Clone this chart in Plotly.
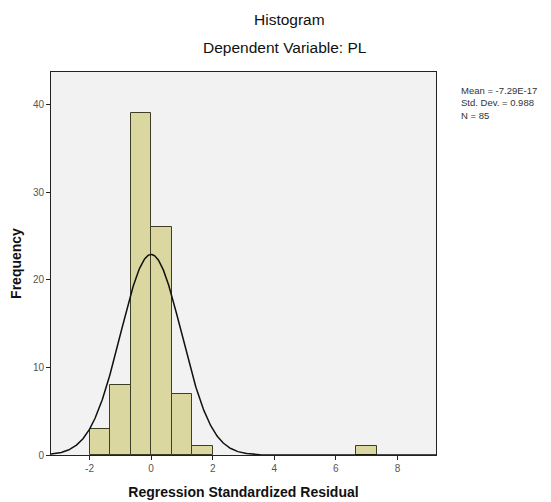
import numpy as np
import plotly.graph_objects as go

# Data
bin_left = [-2.0, -4/3, -2/3, 0.0, 2/3, 4/3, 20/3]
bin_width = 2/3
counts = [3, 8, 39, 26, 7, 1, 1]
mean = -7.29e-17
std = 0.988
n = 85
x_ticks = [-2, 0, 2, 4, 6, 8]
y_ticks = [0, 10, 20, 30, 40]
stats_lines = ["Mean = -7.29E-17", f"Std. Dev. = {std}", f"N = {n}"]

centers = [b + bin_width / 2 for b in bin_left]
xs = np.linspace(-3.25, 9.25, 600)
ys = n * bin_width * np.exp(-0.5 * ((xs - mean) / std) ** 2) / (std * np.sqrt(2 * np.pi))

fig = go.Figure()
fig.add_trace(go.Bar(
    x=centers, y=counts, width=[bin_width] * len(counts),
    marker=dict(color="#DAD8A0", line=dict(color="#3E3E26", width=1)),
    showlegend=False, hoverinfo="skip",
))
fig.add_trace(go.Scatter(
    x=xs, y=ys, mode="lines", line=dict(color="#111111", width=1.5),
    showlegend=False, hoverinfo="skip",
))

# page body has an 8px default margin; compensate so the plot lands where the reference has it
OFF = 8
W, H = 551 - OFF, 502 - OFF
L, R, T, B = 51 - OFF, 436 - OFF, 72 - OFF, 455 - OFF
PW, PH = R - L, B - T

fig.update_layout(
    width=W, height=H,
    margin=dict(l=L, r=W - R, t=T, b=H - B, autoexpand=False),
    paper_bgcolor="white", plot_bgcolor="#F2F2F2",
    font=dict(family="Liberation Sans, Arial, sans-serif", color="#222"),
    bargap=0,
)
fig.update_xaxes(
    automargin=False,
    range=[-3.25, 9.25], tickvals=x_ticks, ticktext=[str(t) for t in x_ticks],
    showgrid=False, zeroline=False, showline=True, linecolor="#222", linewidth=1,
    mirror=True, ticks="outside", ticklen=4, tickcolor="#222",
    tickfont=dict(size=10, color="#555"),
    title=dict(text="<b>Regression Standardized Residual</b>", font=dict(size=14, color="#111"), standoff=14),
)
fig.update_yaxes(
    automargin=False,
    range=[0, 43.7], tickvals=y_ticks, ticktext=[str(t) for t in y_ticks],
    showgrid=False, zeroline=False, showline=True, linecolor="#222", linewidth=1,
    mirror=True, ticks="outside", ticklen=4, tickcolor="#222",
    tickfont=dict(size=10, color="#555"),
    title=dict(text="<b>Frequency</b>", font=dict(size=14, color="#111"), standoff=12),
)
fig.add_annotation(text="Histogram", xref="paper", yref="paper",
                   x=(289 - 51) / PW, y=1 + (72 - 19) / PH, showarrow=False,
                   font=dict(size=15.5, color="#111"), xanchor="center", yanchor="middle")
fig.add_annotation(text="Dependent Variable: PL", xref="paper", yref="paper",
                   x=(285 - 51) / PW, y=1 + (72 - 48) / PH, showarrow=False,
                   font=dict(size=15.5, color="#111"), xanchor="center", yanchor="middle")
fig.add_annotation(
    text="<br>".join(stats_lines), xref="paper", yref="paper",
    x=(459 - 51) / PW, y=1 - (83 - 72) / PH,
    showarrow=False, align="left", xanchor="left", yanchor="top",
    font=dict(size=9.5, color="#333"),
)

fig.write_html("out.html")
